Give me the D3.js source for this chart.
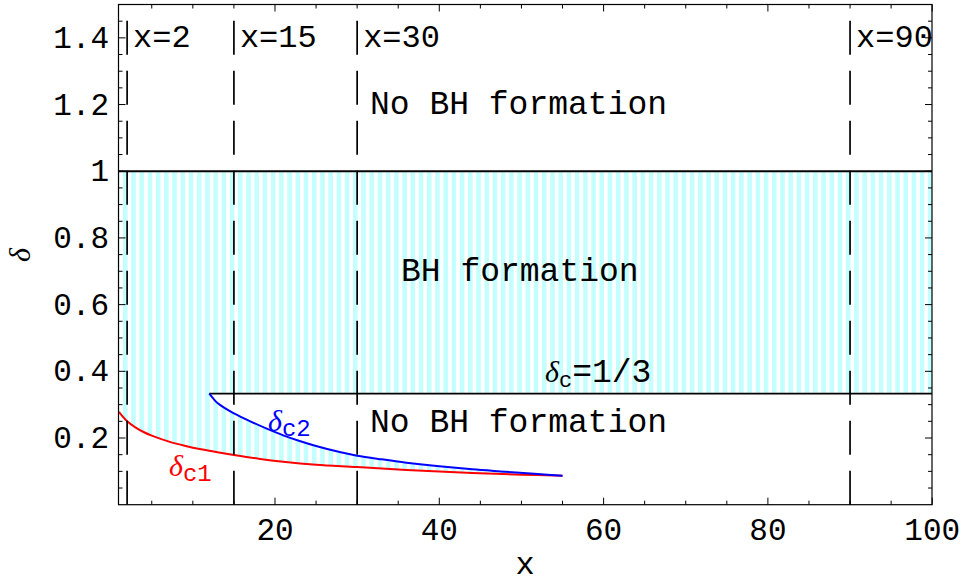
<!DOCTYPE html>
<html>
<head>
<meta charset="utf-8">
<script src="https://cdn.jsdelivr.net/npm/d3@7"></script>
<style>
  html, body { margin: 0; padding: 0; background: #fff; }
  svg { display: block; }
  .mono { font-family: "Courier New", "Liberation Mono", monospace; }
</style>
</head>
<body>
<svg id="chart" width="962" height="583"></svg>
<script>
// Vertical reference lines (x values) and their labels
const refLines = [2, 15, 30, 90];
const refLabels = ["x=2", "x=15", "x=30", "x=90"];

// Axis ticks
const xTickValues = [20, 40, 60, 80, 100];
const xTickLabels = ["20", "40", "60", "80", "100"];
const yTickValues = [0.2, 0.4, 0.6, 0.8, 1.0, 1.2, 1.4];
const yTickLabels = ["0.2", "0.4", "0.6", "0.8", "1", "1.2", "1.4"];

// Threshold delta_c1 (red curve)
const c1X = [1, 2, 3, 4, 5, 7, 9, 11, 13, 15, 18, 21, 25, 30, 36, 44, 50, 55];
const c1Y = [0.278, 0.250, 0.232, 0.218, 0.207, 0.190, 0.177, 0.166, 0.157, 0.149,
             0.138, 0.129, 0.120, 0.113, 0.104, 0.095, 0.090, 0.087];

// Threshold delta_c2 (blue curve)
const c2X = [12, 12.5, 13, 14, 15, 17, 19, 21, 23, 25, 28, 30, 33, 36, 40, 44, 48, 52, 55];
const c2Y = [0.333, 0.318, 0.305, 0.288, 0.274, 0.250, 0.228, 0.208, 0.191, 0.176,
             0.157, 0.147, 0.136, 0.126, 0.115, 0.106, 0.099, 0.092, 0.087];

// Constant threshold delta_c = 1/3 and upper bound delta = 1
const deltaC = 1 / 3;
const deltaMax = 1;

const svg = d3.select("#chart");
const frameL = 118.5, frameR = 932, frameT = 4.5, frameB = 504.7;

const x = d3.scaleLinear().domain([1, 100]).range([118.9, 932.2]);
const y = d3.scaleLinear().domain([0, 1.5]).range([frameB, frameT]);

// Stripe pattern for the BH formation region
const defs = svg.append("defs");
const period = x(2) - x(1);
const pat = defs.append("pattern")
  .attr("id", "stripes")
  .attr("patternUnits", "userSpaceOnUse")
  .attr("x", x(0.5)).attr("y", 0)
  .attr("width", period).attr("height", 20);
pat.append("rect").attr("width", period).attr("height", 20).attr("fill", "#ffffff");
pat.append("rect").attr("width", period * 0.55).attr("height", 20).attr("fill", "#c4ffff");

defs.append("clipPath").attr("id", "plotclip")
  .append("rect").attr("x", frameL).attr("y", frameT)
  .attr("width", frameR - frameL).attr("height", frameB - frameT);

const plot = svg.append("g").attr("clip-path", "url(#plotclip)");

const c1 = c1X.map((v, i) => [v, c1Y[i]]);
const c2 = c2X.map((v, i) => [v, c2Y[i]]);

const line = d3.line()
  .x(d => x(d[0])).y(d => y(d[1]))
  .curve(d3.curveCatmullRom.alpha(0.5));

// Closed outline of the shaded region: top at delta=1, down to 1/3, along c2, back along c1
const xMin = x.domain()[0], xMax = x.domain()[1];
const c2Path = line(c2).replace(/^M/, "L");
const c1Path = line(c1.slice().reverse()).replace(/^M/, "L");
const regionPath =
  `M${x(xMin)},${y(deltaMax)}L${x(xMax)},${y(deltaMax)}L${x(xMax)},${y(deltaC)}` +
  `L${x(c2X[0])},${y(deltaC)}` + c2Path + c1Path + "Z";

plot.append("path").attr("d", regionPath).attr("fill", "url(#stripes)").attr("stroke", "none");

// delta = 1 and delta_c = 1/3 lines
plot.append("line")
  .attr("x1", x(xMin)).attr("x2", x(xMax))
  .attr("y1", y(deltaMax)).attr("y2", y(deltaMax))
  .attr("stroke", "#000").attr("stroke-width", 1.8);
plot.append("line")
  .attr("x1", x(c2X[0])).attr("x2", x(xMax))
  .attr("y1", y(deltaC)).attr("y2", y(deltaC))
  .attr("stroke", "#000").attr("stroke-width", 1.8);

// Threshold curves
plot.append("path").attr("d", line(c1)).attr("fill", "none")
  .attr("stroke", "#ff0000").attr("stroke-width", 2);
plot.append("path").attr("d", line(c2)).attr("fill", "none")
  .attr("stroke", "#0000ff").attr("stroke-width", 2);

// Dashed vertical lines, drawn bottom to top
plot.selectAll("line.ref").data(refLines).join("line")
  .attr("class", "ref")
  .attr("x1", d => x(d)).attr("x2", d => x(d))
  .attr("y1", y(0)).attr("y2", y(1.5))
  .attr("stroke", "#000").attr("stroke-width", 1.7)
  .attr("stroke-dasharray", "34,16");

plot.selectAll("text.ref").data(refLines).join("text")
  .attr("class", "ref mono")
  .attr("x", d => x(d) + 6).attr("y", 47)
  .attr("font-size", 32).attr("fill", "#000")
  .text((d, i) => refLabels[i]);

// Region labels
plot.append("text").attr("class", "mono").attr("x", 370).attr("y", 114)
  .attr("font-size", 33).text("No BH formation");
plot.append("text").attr("class", "mono").attr("x", 401).attr("y", 281)
  .attr("font-size", 33).text("BH formation");
plot.append("text").attr("class", "mono").attr("x", 370).attr("y", 432)
  .attr("font-size", 33).text("No BH formation");

// delta_c = 1/3 label
const lab = plot.append("text").attr("x", 545).attr("y", 382)
  .attr("class", "mono").attr("font-size", 33).attr("fill", "#000");
lab.append("tspan").attr("font-family", "Liberation Serif, serif").attr("font-style", "italic")
  .attr("font-size", 30).text("δ");
lab.append("tspan").attr("font-size", 22).attr("dy", 5).text("c");
lab.append("tspan").attr("dy", -5).text("=1/3");

// Curve labels
function curveLabel(xp, yp, sub, color) {
  const t = plot.append("text").attr("x", xp).attr("y", yp).attr("fill", color);
  t.append("tspan").attr("font-family", "Liberation Serif, serif")
    .attr("font-style", "italic").attr("font-size", 30).text("δ");
  t.append("tspan").attr("class", "mono").attr("font-size", 24).attr("dy", 5).text(sub);
}
curveLabel(268, 431, "c2", "#0000ff");
curveLabel(169, 476, "c1", "#ff0000");

// Frame
svg.append("rect").attr("x", frameL).attr("y", frameT)
  .attr("width", frameR - frameL).attr("height", frameB - frameT)
  .attr("fill", "none").attr("stroke", "#000").attr("stroke-width", 1.2);

// Ticks (inward, on all four sides)
const xMinor = d3.range(5, 100.1, 5);
const yMinor = d3.range(0.05, 1.5, 0.05).map(v => +v.toFixed(2));
const isMajorX = v => xTickValues.includes(v);
const isMajorY = v => yTickValues.some(t => Math.abs(t - v) < 1e-6);
const majorLen = 7, minorLen = 4;
const ticks = svg.append("g").attr("stroke", "#000").attr("stroke-width", 1);

xMinor.forEach(v => {
  const len = isMajorX(v) ? majorLen : minorLen;
  ticks.append("line").attr("x1", x(v)).attr("x2", x(v)).attr("y1", frameB).attr("y2", frameB - len);
  ticks.append("line").attr("x1", x(v)).attr("x2", x(v)).attr("y1", frameT).attr("y2", frameT + len);
});
yMinor.forEach(v => {
  const len = isMajorY(v) ? majorLen : minorLen;
  ticks.append("line").attr("x1", frameL).attr("x2", frameL + len).attr("y1", y(v)).attr("y2", y(v));
  ticks.append("line").attr("x1", frameR).attr("x2", frameR - len).attr("y1", y(v)).attr("y2", y(v));
});

// Tick labels
svg.selectAll("text.xt").data(xTickValues).join("text")
  .attr("class", "xt mono")
  .attr("x", d => x(d)).attr("y", 540)
  .attr("text-anchor", "middle").attr("font-size", 31)
  .text((d, i) => xTickLabels[i]);
svg.selectAll("text.yt").data(yTickValues).join("text")
  .attr("class", "yt mono")
  .attr("x", 109).attr("y", d => y(d) + 10)
  .attr("text-anchor", "end").attr("font-size", 31)
  .text((d, i) => yTickLabels[i]);

// Axis titles
svg.append("text").attr("class", "mono").attr("x", 525).attr("y", 574)
  .attr("text-anchor", "middle").attr("font-size", 32).text("x");
svg.append("text")
  .attr("transform", "translate(30,255) rotate(-90)")
  .attr("text-anchor", "middle")
  .attr("font-family", "Liberation Serif, serif").attr("font-style", "italic")
  .attr("font-size", 30).text("δ");
</script>
</body>
</html>
